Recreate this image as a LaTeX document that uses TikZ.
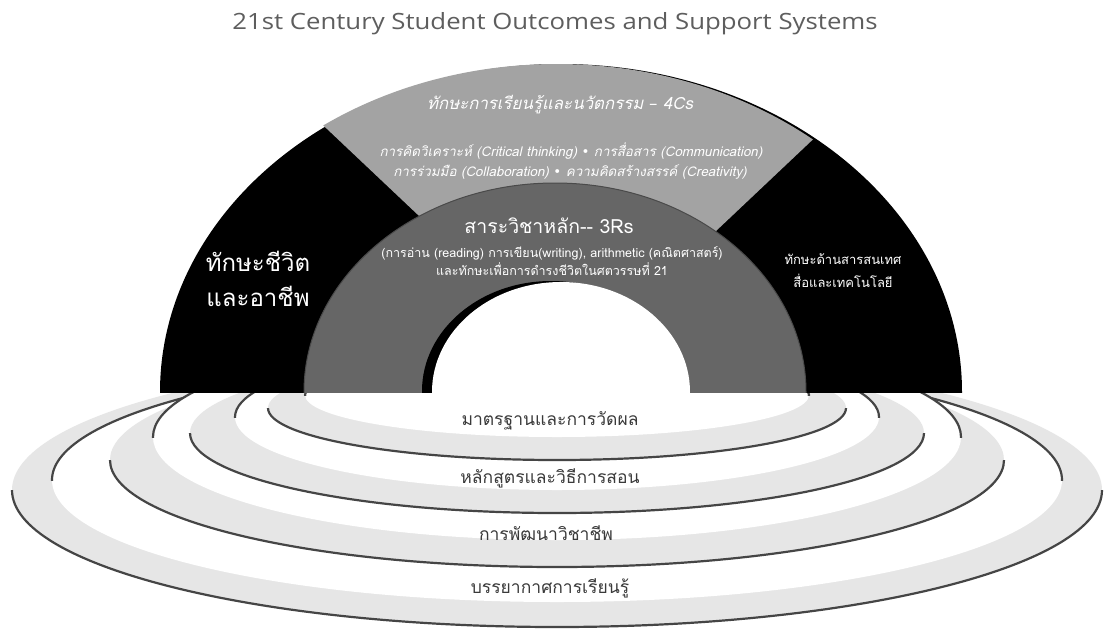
\documentclass[tikz,border=0pt]{standalone}
\usepackage{fontspec}
\setmainfont{Open Sans}
\newfontfamily\titlef[FakeStretch=1.15]{Open Sans}
\newfontfamily\thai[Script=Thai]{Loma}
\newfontfamily\thaisl[Script=Thai,FakeSlant=0.22]{Loma}
\newfontfamily\symf{DejaVu Sans}
\definecolor{sectorgray}{HTML}{A3A3A3}
\definecolor{coregray}{HTML}{666666}
\definecolor{coreedge}{HTML}{4A4A4A}
\definecolor{ringfill}{HTML}{E6E6E6}
\definecolor{ringline}{HTML}{454545}
\definecolor{titlegray}{HTML}{5E5E5E}
\definecolor{labelgray}{HTML}{3A3A3A}
\tikzset{
  ringedge/.style={draw=ringline, line width=2.2pt},
  titletext/.style={text=titlegray, font=\titlef\fontsize{22.4}{25}\selectfont, inner sep=0pt},
  darklabel/.style={text=white, inner sep=0pt, align=center},
  ringlabel/.style={text=labelgray, inner sep=0pt, font=\thai\fontsize{17.5}{20}\selectfont},
}
% one support ring: #1 centre x, #2 #3 #4 outer centre y / radii, #5 #6 #7 inner centre y / radii
\newcommand\supportring[7]{%
  \fill[ringfill] (#1,#2) ellipse [x radius=#3pt, y radius=#4pt];
  \begin{scope}
    \clip (0,#2) rectangle (1109,641);
    \draw[ringedge] (#1,#2) ellipse [x radius=#3pt, y radius=#4pt];
  \end{scope}
  \fill[white] (#1,#5) ellipse [x radius=#6pt, y radius=#7pt];
  \begin{scope}
    \clip (0,0) rectangle (1109,#5);
    \draw[ringedge] (#1,#5) ellipse [x radius=#6pt, y radius=#7pt];
  \end{scope}
}
\begin{document}
\begin{tikzpicture}[x=1pt,y=-1pt]
\useasboundingbox (0,0) rectangle (1109,641);
\fill[white] (0,0) rectangle (1109,641);

% support systems: concentric rings below the arch
\begin{scope}
  \clip (0,392) rectangle (1109,641);
  \supportring{557}{490}{545}{137}{480}{505}{122}
  \supportring{557}{460}{447}{107}{437}{404}{103}
  \supportring{557}{433}{367}{80}{417}{322}{73}
  \supportring{557}{408}{289}{52}{395}{252}{42}
\end{scope}

% the arch of student outcomes
\begin{scope}
  \clip (0,0) rectangle (1109,392);
  \fill[black] (561,392) ellipse [x radius=401pt, y radius=328pt];
  \begin{scope}
    \clip (557,392) ellipse [x radius=401pt, y radius=328pt];
    \fill[sectorgray] (254,60) -- (897,60) -- (643,300) -- (508,300) -- cycle;
  \end{scope}
  \fill[coregray, draw=coreedge, line width=1pt] (555,392) ellipse [x radius=251pt, y radius=209pt];
  \fill[black] (551,391) ellipse [x radius=129pt, y radius=110pt];
  \fill[white] (561,392) ellipse [x radius=129pt, y radius=110pt];
\end{scope}

\node[titletext] (title) at (555,24) {21st Century Student Outcomes and Support Systems};

% learning and innovation skills
\node[darklabel, font=\thaisl\fontsize{16.8}{19}\selectfont] (fourc) at (560,105)
  {ทักษะการเรียนรู้และนวัตกรรม {\symf –} 4Cs};
\node[darklabel, font=\thaisl\fontsize{13.4}{16}\selectfont] (fourca) at (571,151)
  {การคิดวิเคราะห์ (Critical thinking) {\symf •} การสื่อสาร (Communication)};
\node[darklabel, font=\thaisl\fontsize{13.4}{16}\selectfont] (fourcb) at (570,172)
  {การร่วมมือ (Collaboration) {\symf •} ความคิดสร้างสรรค์ (Creativity)};

% core subjects
\node[darklabel, font=\thai\fontsize{19.5}{22}\selectfont] (core) at (549,226)
  {สาระวิชาหลัก-- 3Rs};
\node[darklabel, font=\thai\fontsize{12.5}{18}\selectfont] (corea) at (552,261)
  {(การอ่าน (reading) การเขียน(writing), arithmetic (คณิตศาสตร์)\\
   และทักษะเพื่อการดำรงชีวิตในศตวรรษที่ 21};

% life and career skills
\node[darklabel, font=\thai\fontsize{24}{35}\selectfont] (life) at (258,279)
  {ทักษะชีวิต\\และอาชีพ};

% information, media and technology skills
\node[darklabel, font=\thai\fontsize{13}{23}\selectfont] (imt) at (843,271)
  {ทักษะด้านสารสนเทศ\\สื่อและเทคโนโลยี};

% support system labels
\node[ringlabel] (std) at (550,421) {มาตรฐานและการวัดผล};
\node[ringlabel] (cur) at (550,478) {หลักสูตรและวิธีการสอน};
\node[ringlabel] (pro) at (546,533) {การพัฒนาวิชาชีพ};
\node[ringlabel] (env) at (550,588) {บรรยากาศการเรียนรู้};
\end{tikzpicture}
\end{document}
